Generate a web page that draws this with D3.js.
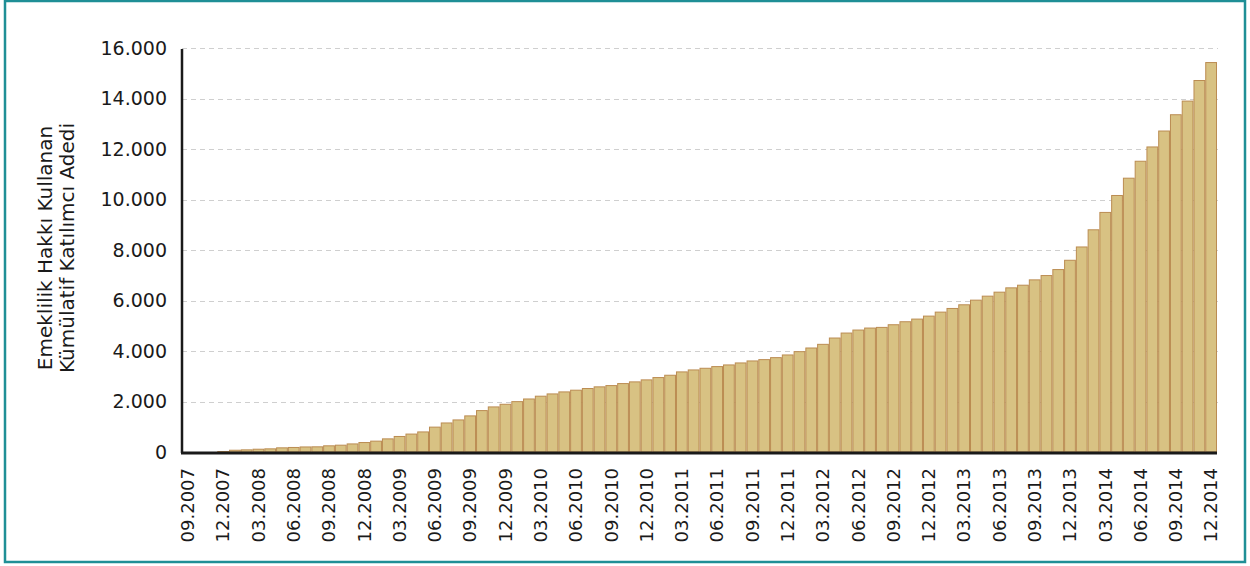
<!DOCTYPE html>
<html><head><meta charset="utf-8">
<script src="https://cdn.jsdelivr.net/npm/d3@7"></script>
<style>
html,body{margin:0;padding:0;background:#fff;}
svg{display:block;}
</style></head>
<body>
<svg id="chart" width="1250" height="566"></svg>
<script>
const months = [
"09.2007","10.2007","11.2007","12.2007",
"01.2008","02.2008","03.2008","04.2008","05.2008","06.2008","07.2008","08.2008","09.2008","10.2008","11.2008","12.2008",
"01.2009","02.2009","03.2009","04.2009","05.2009","06.2009","07.2009","08.2009","09.2009","10.2009","11.2009","12.2009",
"01.2010","02.2010","03.2010","04.2010","05.2010","06.2010","07.2010","08.2010","09.2010","10.2010","11.2010","12.2010",
"01.2011","02.2011","03.2011","04.2011","05.2011","06.2011","07.2011","08.2011","09.2011","10.2011","11.2011","12.2011",
"01.2012","02.2012","03.2012","04.2012","05.2012","06.2012","07.2012","08.2012","09.2012","10.2012","11.2012","12.2012",
"01.2013","02.2013","03.2013","04.2013","05.2013","06.2013","07.2013","08.2013","09.2013","10.2013","11.2013","12.2013",
"01.2014","02.2014","03.2014","04.2014","05.2014","06.2014","07.2014","08.2014","09.2014","10.2014","11.2014","12.2014"
];
const participants = [
0,0,0,20,
70,85,110,125,165,180,200,205,245,270,320,375,
430,520,615,710,795,985,1150,1270,1430,1640,1785,1890,
1995,2100,2210,2300,2380,2448,2514,2580,2630,2710,2777,2856,
2948,3040,3172,3250,3316,3382,3448,3527,3606,3658,3737,3843,
3974,4119,4264,4514,4711,4830,4909,4935,5040,5159,5264,5382,
5540,5685,5830,6014,6172,6330,6501,6606,6817,6988,7225,7593,
8120,8800,9488,10159,10844,11515,12081,12712,13357,13897,14713,15424
];
const yTicks = [0,2000,4000,6000,8000,10000,12000,14000,16000];
const xTickLabels = months.filter((m,i)=> i % 3 === 0);
const yTitle = ["Emeklilik Hakkı Kullanan","Kümülatif Katılımcı Adedi"];

(function(){
const svg = d3.select("#chart");
const FONT = "'DejaVu Sans',sans-serif";

svg.append("rect").attr("x",5).attr("y",1).attr("width",1240).attr("height",561)
  .attr("fill","#fff").attr("stroke","#1f8f96").attr("stroke-width",2.5);

const pL = 182, pR = 1217, pT = 48, pB = 452;
const x = d3.scaleBand().domain(months).range([pL,pR]).padding(0);
const y = d3.scaleLinear().domain([0,16000]).range([pB,pT]);

svg.append("g").selectAll("line").data(yTicks.filter(d=>d>0)).join("line")
  .attr("x1",pL).attr("x2",pR+1)
  .attr("y1",d=>Math.round(y(d))+0.5).attr("y2",d=>Math.round(y(d))+0.5)
  .attr("stroke","#cfcfcf").attr("stroke-width",1.2).attr("stroke-dasharray","5,4");

svg.append("g").selectAll("rect").data(participants).join("rect")
  .attr("x",(d,i)=>x(months[i])+0.5)
  .attr("y",d=>y(d))
  .attr("width",x.bandwidth()-1)
  .attr("height",d=>pB-y(d))
  .attr("fill","#d8c283")
  .attr("stroke","#bb8c52")
  .attr("stroke-width",1)
  .attr("display",d=>d>0?null:"none");

const yAxis = d3.axisLeft(y).tickValues(yTicks).tickSize(0).tickPadding(15)
  .tickFormat(d=>d3.format(",")(d).replace(/,/g,"."));
const gy = svg.append("g").attr("transform",`translate(${pL},0)`).call(yAxis);
gy.select(".domain").remove();
gy.selectAll("text").attr("font-family",FONT).attr("font-size",19).attr("fill","#1a1a1a");
svg.append("line").attr("x1",pL).attr("x2",pL).attr("y1",pT+1).attr("y2",pB+1)
  .attr("stroke","#1a1a1a").attr("stroke-width",2.5);

const xAxis = d3.axisBottom(x).tickValues(xTickLabels).tickSize(0).tickPadding(0);
const gx = svg.append("g").attr("transform",`translate(0,${pB})`).call(xAxis);
gx.select(".domain").remove();
gx.selectAll("text")
  .attr("font-family",FONT).attr("font-size",18).attr("fill","#1a1a1a")
  .attr("text-anchor","end")
  .attr("transform","rotate(-90)")
  .attr("x",-16).attr("y",0).attr("dy","0.35em");
svg.append("line").attr("x1",pL-1).attr("x2",pR).attr("y1",pB+1).attr("y2",pB+1)
  .attr("stroke","#1a1a1a").attr("stroke-width",3);

const yt = svg.append("text").attr("transform","translate(52,248) rotate(-90)")
  .attr("text-anchor","middle").attr("font-family",FONT).attr("font-size",20).attr("fill","#1a1a1a");
yTitle.forEach((t,i)=> yt.append("tspan").attr("x",0).attr("dy",i===0?0:"1.1em").text(t));
})();
</script>
</body></html>
